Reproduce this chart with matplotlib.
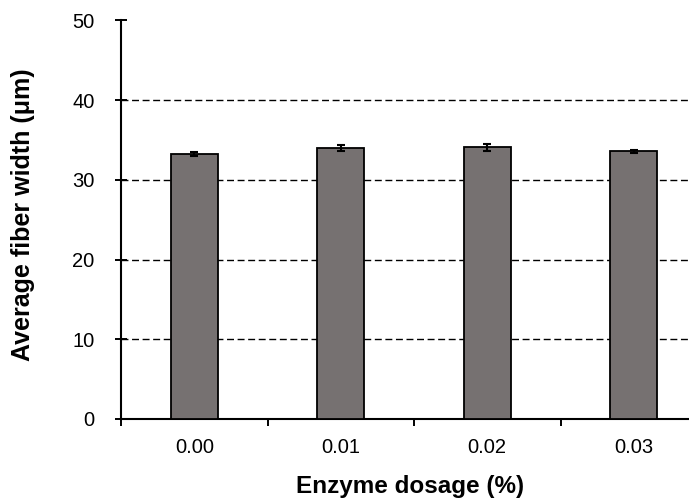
import matplotlib
matplotlib.use("Agg")
import matplotlib.pyplot as plt

# data
dosages = ["0.00", "0.01", "0.02", "0.03"]
fiber_width = [33.2, 34.0, 34.1, 33.6]
fiber_err = [0.25, 0.4, 0.45, 0.2]

plt.rcParams['font.family'] = ['Liberation Sans', 'DejaVu Sans']

fig = plt.figure(figsize=(6.89, 5.0), dpi=100)
ax = fig.add_axes([121 / 689, 1 - 419 / 500, 1 - 121 / 689, (419 - 20.5) / 500])

xpos = list(range(len(dosages)))
ax.bar(xpos, fiber_width, width=0.32, color="#767171", edgecolor="black",
       linewidth=1.3, zorder=3)
ax.errorbar(xpos, fiber_width, yerr=fiber_err, fmt="none", ecolor="black",
            elinewidth=1.5, capsize=3, capthick=1.5, zorder=4)

ax.set_ylim(0, 50)
ax.set_xlim(-0.5, -0.5 + (689 - 121) / 146.5)

# dashed gridlines (none at the top)
for yv in [10, 20, 30, 40]:
    ax.axhline(yv, color="black", linestyle=(0, (5, 2.6)), linewidth=1.0, zorder=1)

ax.set_yticks([0, 10, 20, 30, 40, 50])
ax.set_xticks([-0.5, 0.5, 1.5, 2.5])
ax.set_xticklabels([])
ax.set_xticks(xpos, minor=True)
ax.set_xticklabels(dosages, minor=True)
ax.tick_params(axis="x", which="major", direction="out", length=5, width=1.4)
ax.tick_params(axis="x", which="minor", length=0, pad=14, labelsize=14.5)
ax.tick_params(axis="y", direction="inout", length=8, width=1.4, pad=15, labelsize=14.5)

for side in ["top", "right"]:
    ax.spines[side].set_visible(False)
for side in ["left", "bottom"]:
    ax.spines[side].set_linewidth(1.5)

ax.set_xlabel("Enzyme dosage (%)", fontsize=17.5, fontweight="bold", va="baseline")
ax.xaxis.set_label_coords(0.5 + 5 / 568, -(493 - 419) / 398.5)
ax.set_ylabel("Average fiber width (μm)", fontsize=18, fontweight="bold")
ax.yaxis.set_label_coords(-(121 - 35) / 568, 0.5 + 5 / 398.5)

fig.savefig("out.png", dpi=100)
